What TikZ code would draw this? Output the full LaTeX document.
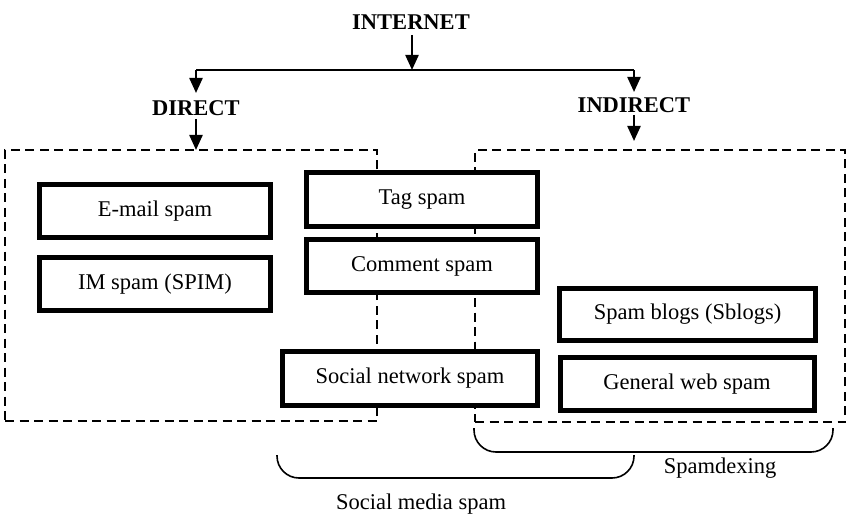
\documentclass[tikz,border=0pt]{standalone}
\usepackage{fontspec}
\setmainfont{Liberation Serif}
\usetikzlibrary{arrows.meta}
\tikzset{
  lbl/.style={font=\fontsize{22.5}{26}\selectfont, inner sep=0pt},
  hdr/.style={font=\fontsize{22.5}{26}\selectfont\bfseries, inner sep=0pt},
  spambox/.style={draw, line width=5pt, fill=white, font=\fontsize{22.5}{26}\selectfont, inner sep=0pt},
  groupbox/.style={draw, line width=2.3pt, dash pattern=on 9pt off 5.5pt, inner sep=0pt},
  arr/.style={line width=2.3pt, -{Triangle[width=13pt,length=15pt]}},
  brace/.style={line width=1.6pt, rounded corners=22pt}
}
\begin{document}
\begin{tikzpicture}[x=1pt,y=-1pt]
\useasboundingbox (0,0) rectangle (850,529);
% group boxes
\node[groupbox, minimum width=372pt, minimum height=271pt] (dleft) at (191,285.5) {};
\node[groupbox, minimum width=370pt, minimum height=272pt] (dright) at (660,286) {};
% headers
\node[hdr] (inet) at (411,22) {INTERNET};
\node[hdr] (direct) at (196,108) {DIRECT};
\node[hdr] (indirect) at (634,105) {INDIRECT};
\coordinate (j) at (412,70);
\coordinate (jl) at (196,70);
\coordinate (jr) at (634,70);
\coordinate (ja) at (412,35);
\draw[line width=2.3pt] (jl) -- (jr);
\draw[arr] (ja) -- (j);
\draw[arr] (jl) -- (196,93);
\draw[arr] (jr) -- (634,92);
\draw[arr] (196,119) -- (196 ,150);
\draw[arr] (634,115) -- (634,141);
% boxes
\node[spambox, minimum width=231pt, minimum height=53pt] (email) at (155,211) {E-mail spam};
\node[spambox, minimum width=231pt, minimum height=53pt] (im) at (155,284) {IM spam (SPIM)};
\node[spambox, minimum width=231pt, minimum height=54pt] (tag) at (422,199.5) {Tag spam};
\node[spambox, minimum width=231pt, minimum height=53pt] (comment) at (422,266) {Comment spam};
\node[spambox, minimum width=255pt, minimum height=54pt] (social) at (410,378.5) {Social network spam};
\node[spambox, minimum width=256pt, minimum height=52pt] (sblogs) at (687.5,314.5) {Spam blogs (Sblogs)};
\node[spambox, minimum width=254pt, minimum height=53pt] (web) at (687,384) {General web spam};
% braces
\coordinate (b1a) at (474,428);
\coordinate (b1b) at (833,428);
\draw[brace] (b1a) -- (474,452) -- (833,452) -- (b1b);
\node[lbl] (spamdex) at (720,468) {Spamdexing};
\coordinate (b2a) at (277,455);
\coordinate (b2b) at (634,455);
\draw[brace] (b2a) -- (277,478) -- (634,478) -- (b2b);
\node[lbl] (smspam) at (421,504) {Social media spam};
\end{tikzpicture}
\end{document}
